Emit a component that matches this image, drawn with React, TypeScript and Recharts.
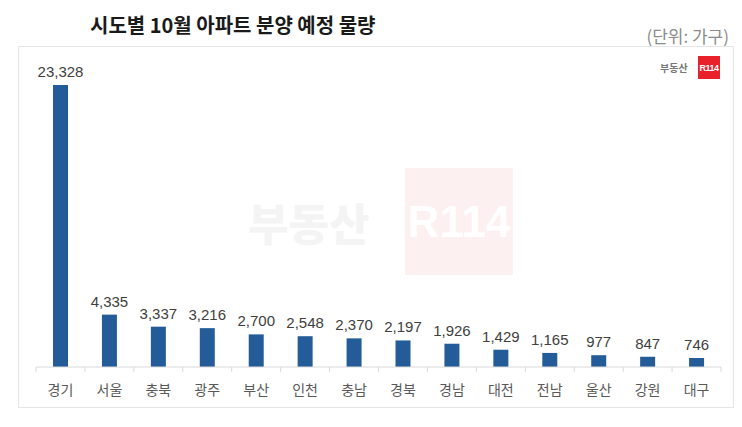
import { BarChart, Bar, XAxis, YAxis, LabelList } from 'recharts';

const regions = ['경기', '서울', '충북', '광주', '부산', '인천', '충남', '경북', '경남', '대전', '전남', '울산', '강원', '대구'];
const units = [23328, 4335, 3337, 3216, 2700, 2548, 2370, 2197, 1926, 1429, 1165, 977, 847, 746];

const data = regions.map((name, i) => ({ name, value: units[i] }));

const W = 742;
const H = 427;
const margin = { top: 77, right: 21, bottom: 30, left: 36 };
const band = (W - margin.left - margin.right) / regions.length;

const korFont = '"Noto Sans CJK KR", "Noto Sans", sans-serif';
const numFont = '"Liberation Sans", Arial, sans-serif';

// eslint-disable-next-line @typescript-eslint/no-explicit-any
function RegionTick(props: any) {
  const { x, y, payload, index } = props;
  return (
    <g>
      <line x1={x - band / 2} x2={x - band / 2} y1={y - 8} y2={y - 3} stroke="#d9d9d9" />
      {index === regions.length - 1 && (
        <line x1={x + band / 2} x2={x + band / 2} y1={y - 8} y2={y - 3} stroke="#d9d9d9" />
      )}
      <text x={x} y={y + 20} textAnchor="middle" fontSize={14} fill="#595959" fontFamily={korFont}>
        {payload.value}
      </text>
    </g>
  );
}

export default function App() {
  return (
    <div style={{ position: 'absolute', left: 0, top: 0, width: W, height: H, background: '#fff', overflow: 'hidden' }}>
      <div
        style={{
          position: 'absolute',
          left: 90,
          top: 11,
          fontFamily: korFont,
          fontWeight: 700,
          fontSize: 20,
          lineHeight: '28px',
          color: '#1a1a1a',
          whiteSpace: 'nowrap',
        }}
      >
        시도별 10월 아파트 분양 예정 물량
      </div>
      <div
        style={{
          position: 'absolute',
          right: 13,
          top: 23,
          fontFamily: korFont,
          fontSize: 17,
          lineHeight: '26px',
          color: '#8c8c8c',
          whiteSpace: 'nowrap',
        }}
      >
        (단위: 가구)
      </div>
      <div
        style={{
          position: 'absolute',
          left: 18,
          top: 46,
          width: 716,
          height: 362,
          border: '1px solid #e6e6e6',
          boxSizing: 'border-box',
        }}
      />
      {/* watermark */}
      <div
        style={{
          position: 'absolute',
          left: 248,
          top: 190,
          fontFamily: korFont,
          fontWeight: 900,
          fontSize: 44,
          color: '#f4f4f4',
          whiteSpace: 'nowrap',
        }}
      >
        부동산
      </div>
      <div
        style={{
          position: 'absolute',
          left: 405,
          top: 168,
          width: 108,
          height: 107,
          background: '#fdf0f0',
          color: '#fff',
          fontFamily: numFont,
          fontWeight: 700,
          fontSize: 44,
          display: 'flex',
          alignItems: 'center',
          justifyContent: 'center',
        }}
      >
        R114
      </div>
      {/* logo */}
      <div
        style={{
          position: 'absolute',
          left: 660,
          top: 60,
          fontFamily: korFont,
          fontWeight: 700,
          fontSize: 10,
          lineHeight: '16px',
          color: '#777',
          whiteSpace: 'nowrap',
        }}
      >
        부동산
      </div>
      <div
        style={{
          position: 'absolute',
          left: 698,
          top: 56,
          width: 22,
          height: 23,
          background: '#e8212b',
          color: '#fff',
          fontFamily: numFont,
          fontWeight: 700,
          fontSize: 9,
          letterSpacing: -0.5,
          display: 'flex',
          alignItems: 'center',
          justifyContent: 'center',
        }}
      >
        R114
      </div>
      <div style={{ position: 'absolute', left: 0, top: 0 }}>
        <BarChart width={W} height={H} data={data} margin={margin} barCategoryGap={0}>
          <YAxis hide domain={[0, 24000]} />
          <XAxis
            dataKey="name"
            axisLine={{ stroke: '#d9d9d9' }}
            tickLine={false}
            tick={<RegionTick />}
            height={30}
            interval={0}
          />
          <Bar dataKey="value" fill="#235c98" barSize={15} isAnimationActive={false}>
            <LabelList
              dataKey="value"
              position="top"
              offset={8}
              formatter={(v: any) => Number(v).toLocaleString('en-US')}
              style={{ fontSize: 15, fill: '#404040', fontFamily: numFont }}
            />
          </Bar>
        </BarChart>
      </div>
    </div>
  );
}
